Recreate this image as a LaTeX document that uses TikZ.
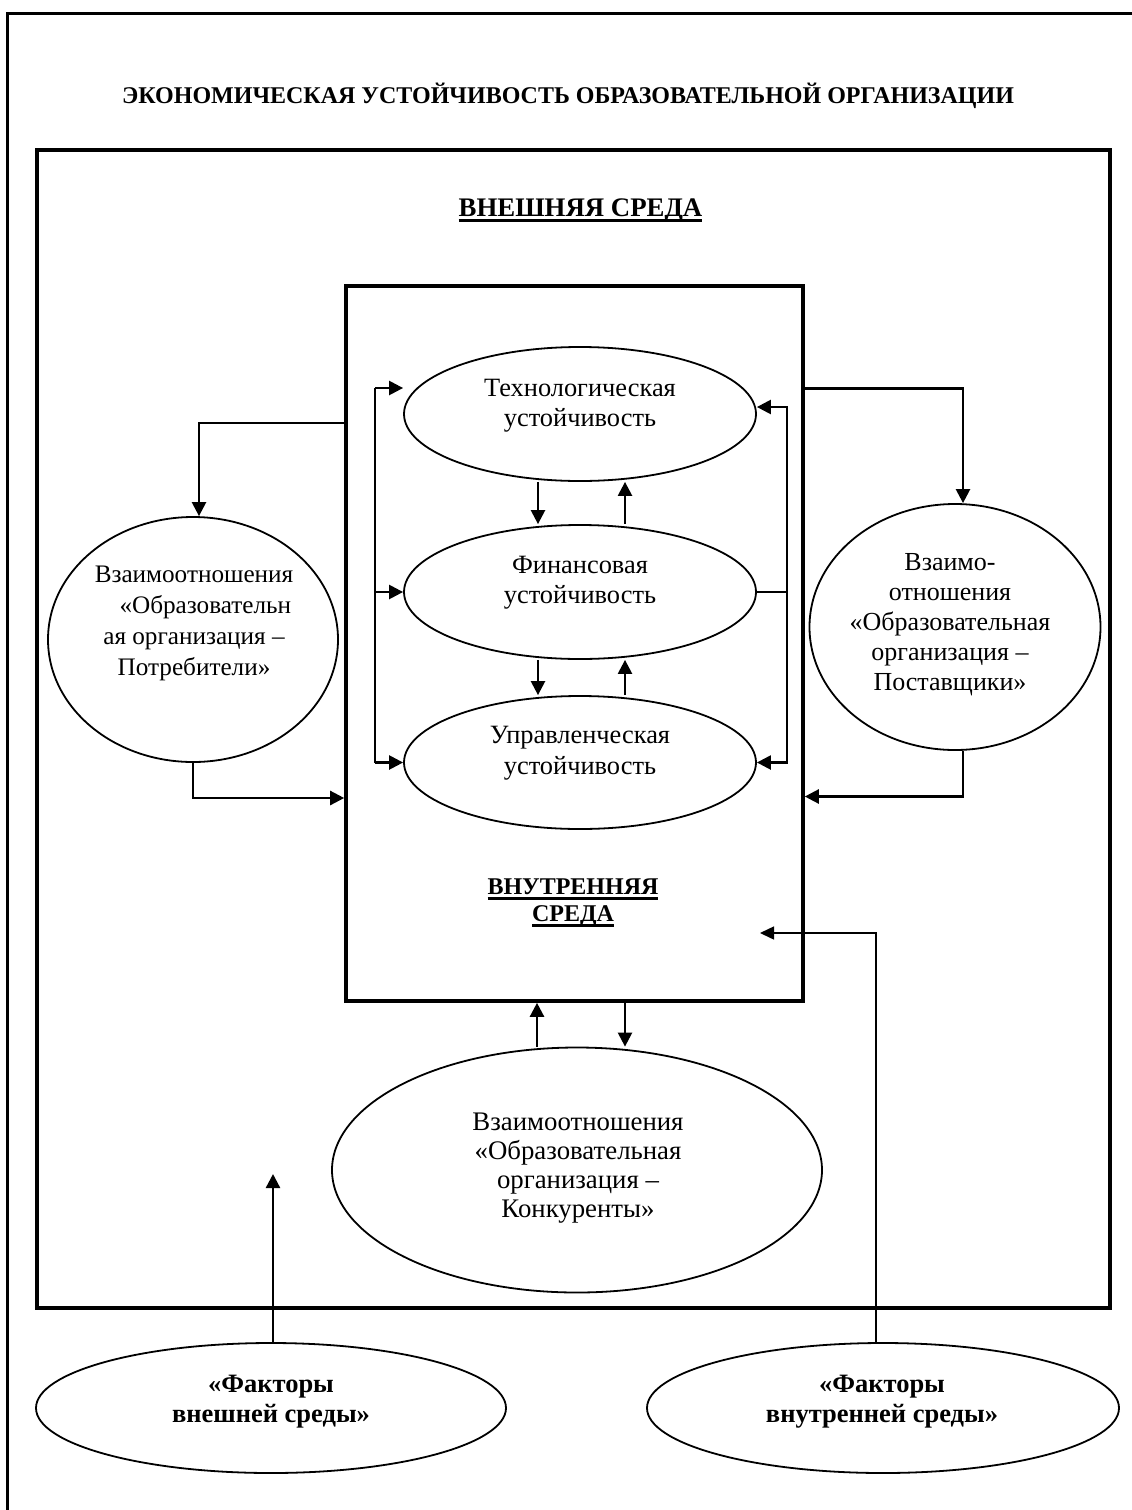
\documentclass[tikz,border=0pt]{standalone}
\usepackage{fontspec}
\setmainfont{Liberation Serif}
\usetikzlibrary{shapes.geometric,arrows.meta}
\newcommand\bodyfnt{\fontsize{26}{30}\selectfont}
\newcommand\myul[1]{\leavevmode\setbox0=\hbox{#1}\rlap{\vrule height -2.5pt depth 5.5pt width \wd0}\box0}
\tikzset{
  ell/.style={draw, ellipse, line width=1.8pt, inner sep=0pt},
  txt/.style={align=center, font=\bodyfnt, inner sep=0pt},
  btxt/.style={align=center, font=\bodyfnt\bfseries, inner sep=0pt},
  conn/.style={line width=2.4pt},
  arr/.style={conn, -{Triangle[length=14pt,width=14pt]}},
  thinarr/.style={line width=1.5pt, -{Triangle[length=14pt,width=13pt]}},
  boxframe/.style={draw, line width=3.6pt, inner sep=0pt},
}
\begin{document}
\begin{tikzpicture}[x=1pt,y=-1pt]
\useasboundingbox (0,0) rectangle (1132,1510);
% outer frame
\draw[line width=3pt] (1135,13) -- (7,13) -- (7,1513);
% title
\node[font=\fontsize{24}{27}\selectfont\bfseries, anchor=base, inner sep=0pt] (title) at (568,103) {ЭКОНОМИЧЕСКАЯ УСТОЙЧИВОСТЬ ОБРАЗОВАТЕЛЬНОЙ ОРГАНИЗАЦИИ};
% environment frame
\node[boxframe, line width=4pt, minimum width=1073pt, minimum height=1158pt] (env) at (573.5,729) {};
\node[font=\fontsize{26.8}{28}\selectfont\bfseries, anchor=base, inner sep=0pt] (envlbl) at (580.5,216) {\myul{ВНЕШНЯЯ СРЕДА}};
% inner box
\node[boxframe, minimum width=457pt, minimum height=715pt] (inner) at (574.5,643.5) {};
\node[font=\fontsize{24}{27}\selectfont\bfseries, align=center, inner sep=0pt] (innerlbl) at (573,903) {\myul{ВНУТРЕННЯЯ}\\\myul{СРЕДА}};
% ellipses
\node[ell, minimum width=352pt, minimum height=134pt] (tech) at (580,414) {};
\node[txt, font=\fontsize{26.4}{30}\selectfont] (techt) at (580,405.6) {Технологическая\\устойчивость};
\node[ell, minimum width=352pt, minimum height=134pt] (fin) at (580,592) {};
\node[txt, font=\fontsize{26.4}{30}\selectfont] (fint) at (580,582.6) {Финансовая\\устойчивость};
\node[ell, minimum width=352pt, minimum height=133pt] (upr) at (580,762.5) {};
\node[txt, font=\fontsize{26.4}{31}\selectfont] (uprt) at (580,753) {Управленческая\\устойчивость};
\node[ell, minimum width=290pt, minimum height=245pt] (potr) at (193,639.5) {};
\node[txt, font=\fontsize{25.2}{31}\selectfont] (potrt) at (194,623) {Взаимоотношения\\\hspace*{0.9em}«Образовательн\\ая организация –\\Потребители»};
\node[ell, minimum width=291pt, minimum height=246pt] (post) at (955,627) {};
\node[txt, font=\fontsize{26}{30}\selectfont] (postt) at (950,624.5) {Взаимо-\\отношения\\«Образовательная\\организация –\\Поставщики»};
\node[ell, minimum width=490pt, minimum height=245pt] (konk) at (577,1170) {};
\node[txt, font=\fontsize{26.8}{28.8}\selectfont] (konkt) at (578,1168.3) {Взаимоотношения\\«Образовательная\\организация –\\Конкуренты»};
\node[ell, minimum width=470pt, minimum height=130pt] (fext) at (271,1408) {};
\node[btxt, font=\fontsize{26.5}{30}\selectfont\bfseries] (fextt) at (271,1401.6) {«Факторы\\внешней среды»};
\node[ell, minimum width=472pt, minimum height=130pt] (fin2) at (883,1408) {};
\node[btxt, font=\fontsize{26.5}{30}\selectfont\bfseries] (fin2t) at (882,1401.6) {«Факторы\\внутренней среды»};
% coordinates for free ends
\coordinate (lbt) at (375,388);
\coordinate (lbb) at (375,762.5);
\coordinate (fextTip) at (273,1174);
\coordinate (innerTip) at (760,933);
% left bus
\draw[conn] (lbt) -- (lbb);
\draw[arr] (lbt) -- (tech.west |- lbt);
\draw[arr] (lbb |- fin.west) -- (fin.west);
\draw[arr] (lbb) -- (upr.west);
% right bus
\draw[conn] (fin.east) -- ([xshift=30pt]fin.east);
\draw[arr] ([xshift=30pt]fin.east) |- ([yshift=7pt]tech.east);
\draw[arr] ([xshift=30pt]fin.east) |- (upr.east);
% vertical arrows between ellipses
\draw[arr] ([xshift=-42pt]tech.south) -- ([xshift=-42pt]fin.north);
\draw[arr] ([xshift=45pt]fin.north) -- ([xshift=45pt]tech.south);
\draw[arr] ([xshift=-42pt]fin.south) -- ([xshift=-42pt]upr.north);
\draw[arr] ([xshift=45pt]upr.north) -- ([xshift=45pt]fin.south);
% consumers
\draw[arr] ([yshift=220.5pt]inner.west) -| ([xshift=6pt]potr.north);
\draw[arr] (potr.south) |- ([yshift=-154.5pt]inner.west);
% suppliers
\draw[arr] ([yshift=255pt]inner.east) -| ([xshift=8pt]post.north);
\draw[arr] ([xshift=8pt]post.south) |- ([yshift=-153pt]inner.east);
% competitors
\draw[arr] ([xshift=-40pt]konk.north) -- ([xshift=-37.5pt]inner.south);
\draw[arr] ([xshift=50.5pt]inner.south) -- ([xshift=48pt]konk.north);
% factors
\draw[arr] ([xshift=2pt]fext.north) -- (fextTip);
\draw[thinarr] ([xshift=-7pt]fin2.north) |- (innerTip);
\end{tikzpicture}
\end{document}
